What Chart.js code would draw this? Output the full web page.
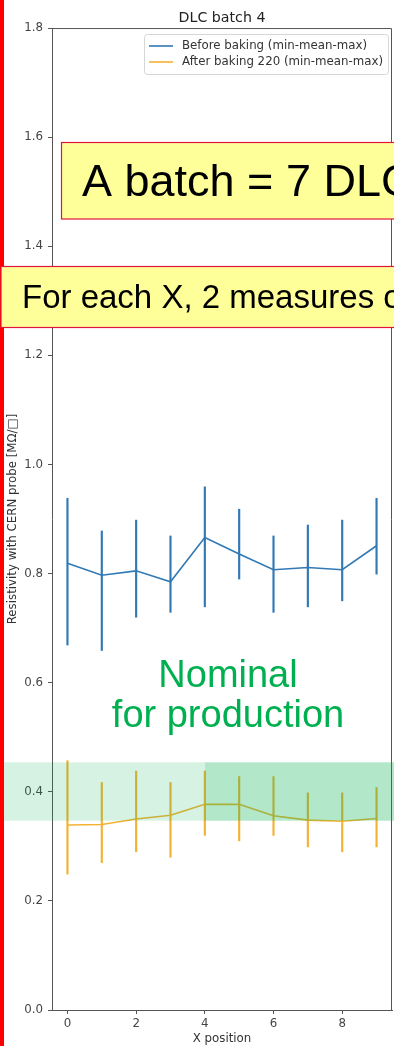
<!DOCTYPE html>
<html><head><meta charset="utf-8">
<script src="https://cdn.jsdelivr.net/npm/chart.js@4.4.1/dist/chart.umd.min.js"></script>
<style>html,body{margin:0;padding:0;background:#fff;}canvas{display:block;}</style>
</head><body>
<canvas id="c" width="394" height="1046"></canvas>
<script>
const chartTitle = 'DLC batch 4';
const xLabel = 'X position';
const yLabel = 'Resistivity with CERN probe [MΩ/□]';
const positions = [0, 1, 2, 3, 4, 5, 6, 7, 8, 9];
const xTicks = [0, 2, 4, 6, 8];
const yTicks = [0.0, 0.2, 0.4, 0.6, 0.8, 1.0, 1.2, 1.4, 1.6, 1.8];
const seriesNames = ['Before baking (min-mean-max)', 'After baking 220 (min-mean-max)'];
const beforeMean = [0.819, 0.797, 0.805, 0.785, 0.866, 0.836, 0.807, 0.811, 0.807, 0.851];
const beforeMin  = [0.669, 0.659, 0.720, 0.729, 0.739, 0.790, 0.729, 0.739, 0.750, 0.799];
const beforeMax  = [0.938, 0.878, 0.898, 0.869, 0.959, 0.918, 0.869, 0.889, 0.898, 0.938];
const afterMean  = [0.339, 0.340, 0.350, 0.357, 0.377, 0.377, 0.356, 0.348, 0.346, 0.351];
const afterMin   = [0.249, 0.270, 0.290, 0.280, 0.320, 0.310, 0.320, 0.299, 0.290, 0.299];
const afterMax   = [0.457, 0.417, 0.438, 0.417, 0.438, 0.428, 0.428, 0.398, 0.398, 0.408];
const nominalBand = [0.347, 0.454];
const nominalText = ['Nominal', 'for production'];
const boxTexts = ['A batch = 7 DLC', 'For each X, 2 measures on Y'];

const BLUE = '#3079b5';
const ORANGE = '#f4b233';
const AXIS = '#555555';
const TXT = '#333333';
const MPL = '"DejaVu Sans", sans-serif';
const ARIAL = '"Liberation Sans", Arial, sans-serif';

const pts = (m) => positions.map((x, i) => ({x: x, y: m[i]}));
const rng = (lo, hi) => positions.map((x, i) => ({x: x, y: [lo[i], hi[i]]}));

const overlay = {
  id: 'overlay',
  afterDraw(chart) {
    const {ctx, chartArea: a, scales: {y}} = chart;
    ctx.save();
    // top & right spines
    ctx.strokeStyle = AXIS; ctx.lineWidth = 1;
    ctx.beginPath();
    ctx.moveTo(a.left, a.top + 0.5);
    ctx.lineTo(a.right - 0.5, a.top + 0.5);
    ctx.lineTo(a.right - 0.5, a.bottom);
    ctx.stroke();
    // legend
    const lx = 144.5, ly = 34.5, lw = 244, lh = 40;
    ctx.fillStyle = 'rgba(255,255,255,0.9)';
    ctx.strokeStyle = '#d6d6d6';
    ctx.beginPath();
    ctx.roundRect(lx, ly, lw, lh, 3);
    ctx.fill(); ctx.stroke();
    const lineDs = chart.data.datasets.filter(d => d.type === 'line');
    ctx.font = '11.8px ' + MPL;
    ctx.textAlign = 'left'; ctx.textBaseline = 'middle';
    lineDs.forEach((d, i) => {
      const yy = 46 + i * 16;
      ctx.strokeStyle = d.borderColor; ctx.lineWidth = 1.6;
      ctx.beginPath(); ctx.moveTo(149, yy); ctx.lineTo(173, yy); ctx.stroke();
      ctx.fillStyle = TXT;
      ctx.fillText(d.label, 182, yy);
    });
    // red bar on the left
    ctx.fillStyle = '#ff0000';
    ctx.fillRect(0, 0, 4, chart.height);
    // nominal band
    const yT = y.getPixelForValue(nominalBand[1]);
    const yB = y.getPixelForValue(nominalBand[0]);
    ctx.fillStyle = 'rgba(0,176,80,0.16)';
    ctx.fillRect(4, yT, 201, yB - yT);
    ctx.fillStyle = 'rgba(0,176,80,0.30)';
    ctx.fillRect(205, yT, 189, yB - yT);
    // nominal text
    ctx.fillStyle = '#00b050';
    ctx.font = '38px ' + ARIAL;
    ctx.textAlign = 'center'; ctx.textBaseline = 'alphabetic';
    ctx.fillText(nominalText[0], 228, 687);
    ctx.fillText(nominalText[1], 228, 727);
    // yellow boxes
    const box = (x, yy, w, h, text, size, tx, ty) => {
      ctx.fillStyle = '#ffff99';
      ctx.fillRect(x, yy, w, h);
      ctx.strokeStyle = '#e0143c'; ctx.lineWidth = 1.2;
      ctx.strokeRect(x, yy, w, h);
      ctx.fillStyle = '#000';
      ctx.font = size + 'px ' + ARIAL;
      ctx.textAlign = 'left'; ctx.textBaseline = 'alphabetic';
      ctx.fillText(text, tx, ty);
    };
    box(61.5, 142.5, 360, 76.5, boxTexts[0], 45, 82, 196);
    box(1, 266.5, 420, 61, boxTexts[1], 33, 22, 307.5);
    ctx.restore();
  }
};

new Chart(document.getElementById('c'), {
  type: 'line',
  data: {
    datasets: [
      {type: 'bar', label: 'before range', data: rng(beforeMin, beforeMax), backgroundColor: BLUE, barThickness: 1.5, grouped: false, order: 2},
      {type: 'line', label: seriesNames[0], data: pts(beforeMean), borderColor: BLUE, backgroundColor: BLUE, borderWidth: 1.6, pointRadius: 0, tension: 0, order: 1},
      {type: 'bar', label: 'after range', data: rng(afterMin, afterMax), backgroundColor: ORANGE, barThickness: 1.5, grouped: false, order: 2},
      {type: 'line', label: seriesNames[1], data: pts(afterMean), borderColor: ORANGE, backgroundColor: ORANGE, borderWidth: 1.6, pointRadius: 0, tension: 0, order: 1}
    ]
  },
  options: {
    responsive: false,
    animation: false,
    events: [],
    layout: {padding: {top: 0, left: 0, right: 2, bottom: 0}},
    plugins: {
      legend: {display: false},
      tooltip: {enabled: false},
      title: {
        display: true, text: chartTitle, fullSize: false, color: '#222',
        font: {family: MPL, size: 14.2, weight: 'normal'},
        padding: {top: 9.6, bottom: 1.4}
      }
    },
    scales: {
      x: {
        type: 'linear', min: -0.45, max: 9.45, offset: false,
        afterBuildTicks: s => { s.ticks = xTicks.map(v => ({value: v})); },
        afterFit: s => { s.height = 36; },
        ticks: {color: '#444', font: {family: MPL, size: 11.8}, padding: 3, maxRotation: 0, callback: v => String(v)},
        grid: {display: true, offset: false, drawOnChartArea: false, drawTicks: true, tickLength: 4, color: AXIS},
        border: {display: true, color: AXIS, width: 1},
        title: {display: true, text: xLabel, color: TXT, font: {family: MPL, size: 11.8}, padding: {top: 0, bottom: 0}}
      },
      y: {
        type: 'linear', min: 0, max: 1.8,
        afterBuildTicks: s => { s.ticks = yTicks.map(v => ({value: v})); },
        afterFit: s => { s.width = 52; },
        ticks: {color: '#444', font: {family: MPL, size: 11.8}, padding: 5, callback: v => v.toFixed(1)},
        grid: {display: true, offset: false, drawOnChartArea: false, drawTicks: true, tickLength: 4, color: AXIS},
        border: {display: true, color: AXIS, width: 1},
        title: {display: true, text: yLabel, color: TXT, font: {family: MPL, size: 11.8}, padding: {top: 5.4, bottom: 0}}
      }
    }
  },
  plugins: [overlay]
});
</script>
</body></html>
